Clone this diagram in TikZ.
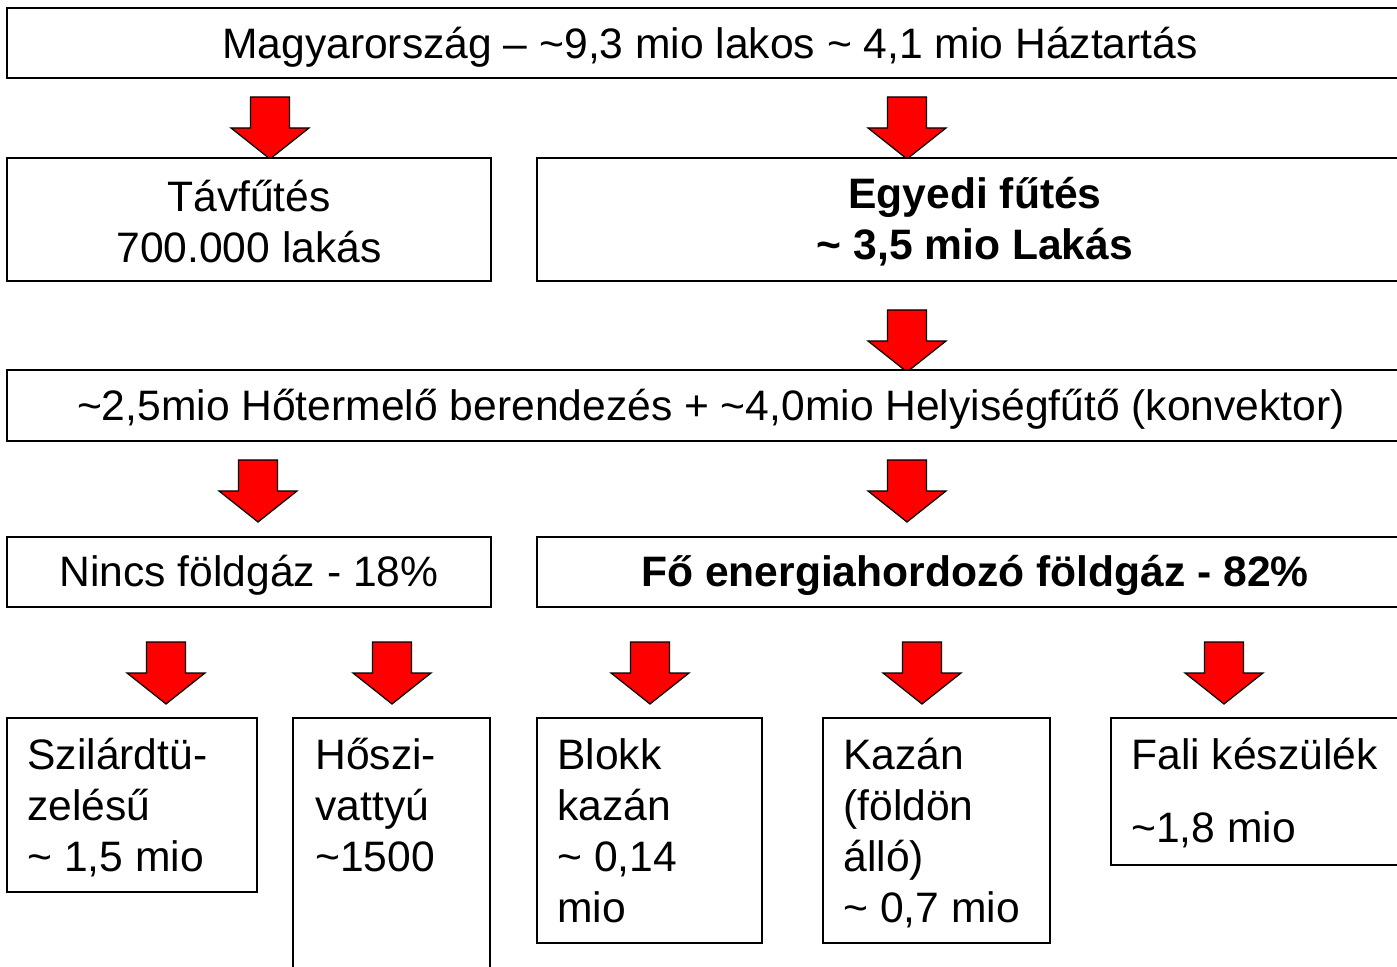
\documentclass[tikz,border=0pt]{standalone}
\usepackage{fontspec}
\setmainfont{Liberation Sans}
\begin{document}
\begin{tikzpicture}[x=0.5pt,y=-0.5pt,
  box/.style={draw=black,line width=1pt,fill=white,inner sep=0pt},
  lbl/.style={font=\fontsize{21.3}{25.5}\selectfont,inner sep=0pt,align=center},
  lbll/.style={font=\fontsize{21.3}{25.5}\selectfont,inner sep=0pt,align=left,anchor=north west},
  bigarrow/.style={fill=red,draw=black,line width=0.6pt,line join=miter}]
\useasboundingbox (0,0) rectangle (1397,967);
\clip (0,0) rectangle (1397,967);
\fill[white] (0,0) rectangle (1397,967);
\newcommand\downarr[2]{\draw[bigarrow] (#1-19.5,#2) -- (#1+19.5,#2) -- (#1+19.5,#2+31) -- (#1+39,#2+31) -- (#1,#2+62) -- (#1-39,#2+31) -- (#1-19.5,#2+31) -- cycle;}
% row 1
\draw[box] (7,8) rectangle (1420,78);
\node[lbl] (top) at (710,47) {Magyarország – \textasciitilde9,3 mio lakos \textasciitilde\ 4,1 mio Háztartás};
\downarr{270}{97}
\downarr{907}{97}
% row 2
\draw[box] (7,158) rectangle (491,281);
\node[lbl] (tav) at (249,222) {Távfűtés\\700.000 lakás};
\draw[box] (537,158) rectangle (1420,281);
\node[lbl,font=\fontsize{21.3}{25.5}\selectfont\bfseries] (egy) at (975,222) {Egyedi fűtés\\\textasciitilde\ 3,5 mio Lakás};
\downarr{907}{310}
% row 3
\draw[box] (7,370) rectangle (1420,441);
\node[lbl] (ho) at (711,409) {\textasciitilde2,5mio Hőtermelő berendezés + \textasciitilde4,0mio Helyiségfűtő (konvektor)};
\downarr{258}{460}
\downarr{907}{460}
% row 4
\draw[box] (7,537) rectangle (491,607);
\node[lbl] (nincs) at (249,575) {Nincs földgáz - 18\%};
\draw[box] (537,537) rectangle (1420,607);
\node[lbl,font=\fontsize{21.3}{25.5}\selectfont\bfseries] (fo) at (975,575) {Fő energiahordozó földgáz - 82\%};
% row 5 arrows
\downarr{166}{642}
\downarr{392}{642}
\downarr{650}{642}
\downarr{922}{642}
\downarr{1224}{642}
% row 5 boxes
\draw[box] (7,718) rectangle (257,892);
\node[lbll] (szil) at (27,738) {Szilárdtü-\\zelésű\\\textasciitilde\ 1,5 mio};
\draw[box] (293,718) rectangle (490,990);
\node[lbll] (hosz) at (315,738) {Hőszi-\\vattyú\\\textasciitilde1500};
\draw[box] (537,718) rectangle (762,943);
\node[lbll] (blokk) at (557,738) {Blokk\\kazán\\\textasciitilde\ 0,14\\mio};
\draw[box] (823,718) rectangle (1050,943);
\node[lbll] (kazan) at (843,738) {Kazán\\(földön\\álló)\\\textasciitilde\ 0,7 mio};
\draw[box] (1111,718) rectangle (1420,865);
\node[lbll] (fali1) at (1131,738) {Fali készülék};
\node[lbll] (fali2) at (1131,811) {\textasciitilde1,8 mio};
\end{tikzpicture}
\end{document}
